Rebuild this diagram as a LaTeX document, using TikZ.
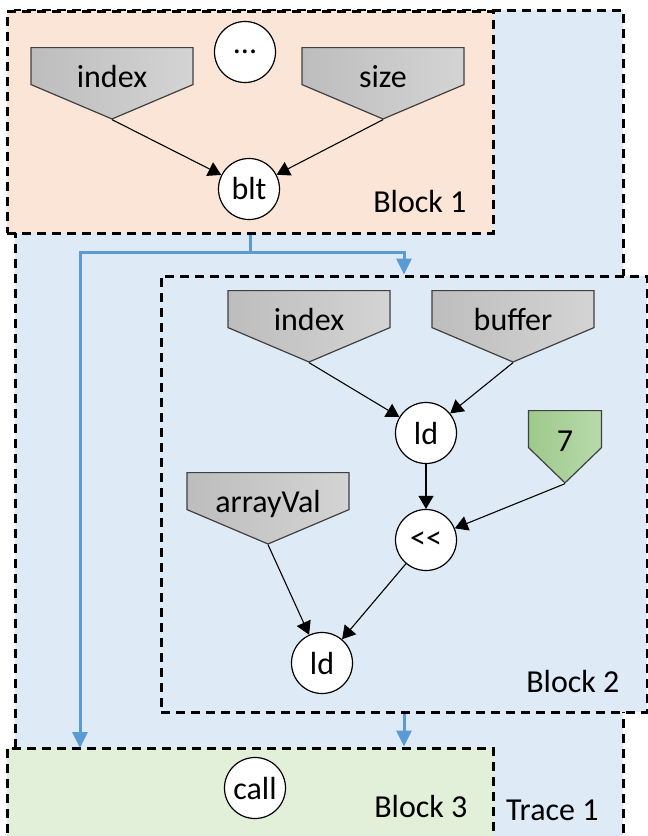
\documentclass[tikz,border=0pt]{standalone}
\usepackage{fontspec}
\setmainfont{Carlito}
\usetikzlibrary{shapes.symbols,arrows.meta,positioning}
\definecolor{traceblue}{HTML}{DEEBF7}
\definecolor{blockpeach}{HTML}{FBE5D6}
\definecolor{blockgreen}{HTML}{E2F0D9}
\definecolor{flowblue}{HTML}{5B9BD5}
\definecolor{portdark}{HTML}{BDBDBD}
\definecolor{portlight}{HTML}{D4D4D4}
\definecolor{constdark}{HTML}{9FC98B}
\definecolor{constlight}{HTML}{B8DAAB}

\begin{document}
\begin{tikzpicture}[x=1pt,y=-1pt,font=\fontsize{32}{38}\selectfont,
	region/.style={draw,line width=3pt,dash pattern=on 9pt off 6pt,inner sep=0pt},
	op/.style={circle,draw,line width=1.2pt,fill=white,minimum size=61pt,inner sep=0pt},
	inport/.style={signal,signal to=south,signal from=nowhere,signal pointer angle=134,
		draw=black!75,line width=1.2pt,left color=portdark,right color=portlight,
		minimum width=162pt,minimum height=37pt,inner sep=0pt,anchor=north,
		label={[anchor=base,yshift=32pt]south:#1}},
	const/.style={inport=#1,signal pointer angle=92,minimum width=73pt,
		left color=constdark,right color=constlight},
	edge/.style={-{Triangle[length=13pt,width=15pt]},line width=1.1pt},
	flow/.style={-{Triangle[length=16pt,width=15pt]},draw=flowblue,line width=3pt},
	tag/.style={anchor=base east}]
	\path[use as bounding box,clip] (0,0) rectangle (648,836);

	% trace and blocks
	\node[region,fill=traceblue,minimum width=608pt,minimum height=890pt] (trace) at (319,455) {};
	\node[region,fill=blockpeach,minimum width=486pt,minimum height=222pt] (blk1) at (250,122) {};
	\node[region,fill=traceblue,minimum width=486pt,minimum height=436pt] (blk2) at (404,494) {};
	\node[region,fill=blockgreen,minimum width=486pt,minimum height=152pt] (blk3) at (250,824) {};

	% block 1
	\node[inport=index] (idx1) at (112,47) {};
	\node[inport=size] (size) at (383,47) {};
	\node[op] (more) at (245,52) {...};
	\node[op] (blt) at (249,189) {blt};
	\node[tag] at (470,212) {Block 1};
	\draw[edge] (idx1.south) -- (blt);
	\draw[edge] (size.south) -- (blt);

	% block 2
	\node[inport=index] (idx2) at (309,290) {};
	\node[inport=buffer] (buf) at (513,290) {};
	\node[inport=arrayVal] (arr) at (268,472) {};
	\node[const=7] (seven) at (565,410) {};
	\node[op] (ld) at (426,433) {ld};
	\node[op] (shl) at (426,540) {<{}<};
	\node[op] (ldval) at (322,663) {ld};
	\node[tag] at (623,692) {Block 2};
	\draw[edge] (idx2.south) -- (ld);
	\draw[edge] (buf.south) -- (ld);
	\draw[edge] (ld) -- (shl);
	\draw[edge] (seven.south) -- (shl);
	\draw[edge] (arr.south) -- (ldval);
	\draw[edge] (shl) -- (ldval);

	% block 3
	\node[op] (call) at (255,788) {call};
	\node[tag] at (471,817) {Block 3};
	\node[tag] at (602,820) {Trace 1};

	% control flow
	\coordinate (fallin) at (80,748);
	\draw[flow] (blk1.south) -- ++(0,18) coordinate (fork) -| (blk2.north);
	\draw[flow] (fork) -| (fallin);
	\draw[flow] (blk2.south) -- (blk2.south |- blk3.north);
\end{tikzpicture}
\end{document}
